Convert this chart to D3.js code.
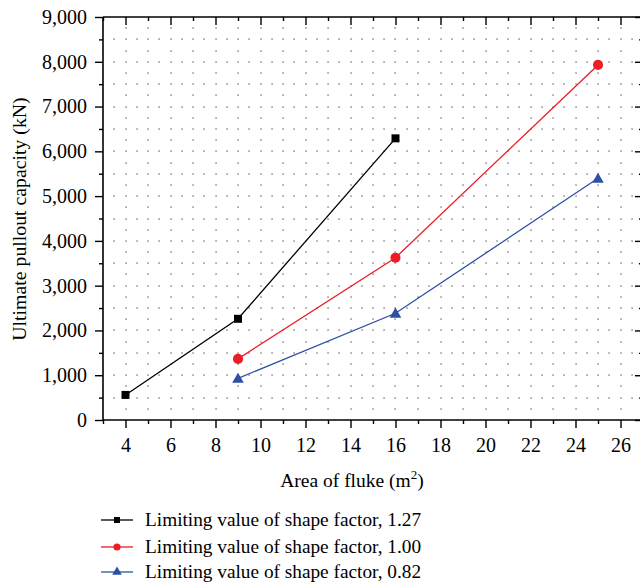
<!DOCTYPE html>
<html><head><meta charset="utf-8">
<script src="https://cdn.jsdelivr.net/npm/d3@7"></script>
<style>body{margin:0;background:#fff}svg{display:block}</style>
</head><body><div id="chart"></div>
<script>
const areas = [4, 9, 16, 25];
const series127 = [[4, 560], [9, 2260], [16, 6290]];
const series100 = [[9, 1365], [16, 3625], [25, 7930]];
const series082 = [[9, 930], [16, 2383], [25, 5397]];
const seriesNames = ["Limiting value of shape factor, 1.27", "Limiting value of shape factor, 1.00", "Limiting value of shape factor, 0.82"];
const seriesColors = ["#000000", "#ee1c25", "#2e4fa3"];
const seriesSymbols = ["square", "circle", "triangle"];
const xTicks = [4, 6, 8, 10, 12, 14, 16, 18, 20, 22, 24, 26];
const yTicks = [0, 1000, 2000, 3000, 4000, 5000, 6000, 7000, 8000, 9000];

const W = 640, H = 584;
const font = "'Liberation Serif', 'DejaVu Serif', serif";
const svg = d3.select("#chart").append("svg").attr("width", W).attr("height", H)
  .style("font-family", font);

const x = d3.scaleLinear().domain([3, 27]).range([103, 643]);
const y = d3.scaleLinear().domain([0, 9000]).range([420, 17]);

// dotted grid
const grid = svg.append("g").attr("fill", "#222");
const dots = [];
for (let xv = 4; xv <= 26; xv++) {
  for (let yv = 250; yv < 9000; yv += 250) dots.push([xv, yv]);
}
for (let yv = 500; yv < 9000; yv += 500) {
  for (let xv = 3.5; xv < 27; xv += 0.5) {
    if (Math.abs(xv - Math.round(xv)) > 0.01) dots.push([xv, yv]);
  }
}
grid.selectAll("rect").data(dots).join("rect")
  .attr("x", d => Math.round(x(d[0])) - 0.5)
  .attr("y", d => Math.round(y(d[1])) - 0.5)
  .attr("width", 1.1).attr("height", 1.1);

// axes
const minorX = d3.range(3, 28, 1).filter(v => !xTicks.includes(v));
const minorY = d3.range(500, 9000, 1000);

function tickStyle(g){ g.selectAll("line").attr("stroke", "#000").attr("stroke-width", 1.4); g.select(".domain").remove(); }

// bottom
svg.append("g").attr("transform", "translate(0,420)")
  .call(d3.axisBottom(x).tickValues(xTicks).tickSize(8).tickPadding(10).tickFormat(d3.format("d")))
  .call(tickStyle)
  .call(g => g.selectAll("text").attr("font-size", 20).attr("font-family", font).attr("fill", "#000"));
svg.append("g").attr("transform", "translate(0,420)")
  .call(d3.axisBottom(x).tickValues(minorX).tickSize(4).tickFormat(""))
  .call(tickStyle);
// top
svg.append("g").attr("transform", "translate(0,17)")
  .call(d3.axisBottom(x).tickValues(xTicks).tickSize(8).tickFormat(""))
  .call(tickStyle);
svg.append("g").attr("transform", "translate(0,17)")
  .call(d3.axisBottom(x).tickValues(minorX).tickSize(4).tickFormat(""))
  .call(tickStyle);
// left
svg.append("g").attr("transform", "translate(103,0)")
  .call(d3.axisLeft(y).tickValues(yTicks).tickSize(8).tickPadding(8).tickFormat(d3.format(",")))
  .call(tickStyle)
  .call(g => g.selectAll("text").attr("font-size", 20).attr("font-family", font).attr("fill", "#000"));
svg.append("g").attr("transform", "translate(103,0)")
  .call(d3.axisLeft(y).tickValues(minorY).tickSize(4).tickFormat(""))
  .call(tickStyle);
// right
svg.append("g").attr("transform", "translate(643,0)")
  .call(d3.axisRight(y).tickValues(yTicks).tickSize(-8).tickFormat(""))
  .call(tickStyle);
svg.append("g").attr("transform", "translate(643,0)")
  .call(d3.axisRight(y).tickValues(minorY).tickSize(-4).tickFormat(""))
  .call(tickStyle);

// frame lines
svg.append("line").attr("x1", 103).attr("x2", 643).attr("y1", 420).attr("y2", 420).attr("stroke", "#000").attr("stroke-width", 1.6);
svg.append("line").attr("x1", 103).attr("x2", 643).attr("y1", 17).attr("y2", 17).attr("stroke", "#000").attr("stroke-width", 1.6);
svg.append("line").attr("x1", 103).attr("x2", 103).attr("y1", 17).attr("y2", 420).attr("stroke", "#000").attr("stroke-width", 1.6);

// series
const allSeries = [series127, series100, series082];
const line = d3.line().x(d => x(d[0])).y(d => y(d[1]));
function symbolPath(kind){
  if (kind === "square") return d3.symbol(d3.symbolSquare, 64)();
  if (kind === "circle") return d3.symbol(d3.symbolCircle, 80)();
  return d3.symbol(d3.symbolTriangle, 58)();
}
allSeries.forEach((s, i) => {
  svg.append("path").datum(s).attr("d", line).attr("fill", "none")
    .attr("stroke", seriesColors[i]).attr("stroke-width", 1.3);
  svg.append("g").selectAll("path").data(s).join("path")
    .attr("transform", d => `translate(${x(d[0])},${y(d[1]) + (seriesSymbols[i] === "triangle" ? 1 : 0)})`)
    .attr("d", symbolPath(seriesSymbols[i]))
    .attr("fill", seriesColors[i]);
});

// axis titles
svg.append("text").attr("x", 352).attr("y", 487).attr("text-anchor", "middle")
  .attr("font-size", 19.5).attr("fill", "#000")
  .html('Area of fluke (m<tspan dy="-8" font-size="13">2</tspan><tspan dy="8">)</tspan>');
svg.append("text").attr("transform", "translate(26,219) rotate(-90)").attr("text-anchor", "middle")
  .attr("font-size", 19.8).attr("fill", "#000").text("Ultimate pullout capacity (kN)");

// legend
const legY = [520, 547, 572];
seriesNames.forEach((name, i) => {
  const g = svg.append("g").attr("transform", `translate(0,${legY[i]})`);
  g.append("line").attr("x1", 101).attr("x2", 133).attr("y1", 0).attr("y2", 0)
    .attr("stroke", seriesColors[i]).attr("stroke-width", 1.3);
  const sz = seriesSymbols[i] === "square" ? d3.symbol(d3.symbolSquare, 36)() :
             seriesSymbols[i] === "circle" ? d3.symbol(d3.symbolCircle, 40)() : d3.symbol(d3.symbolTriangle, 40)();
  g.append("path").attr("transform", "translate(117,0)").attr("d", sz).attr("fill", seriesColors[i]);
  g.append("text").attr("x", 145).attr("y", 6).attr("font-size", 19.3).attr("fill", "#000").text(name);
});
</script></body></html>
